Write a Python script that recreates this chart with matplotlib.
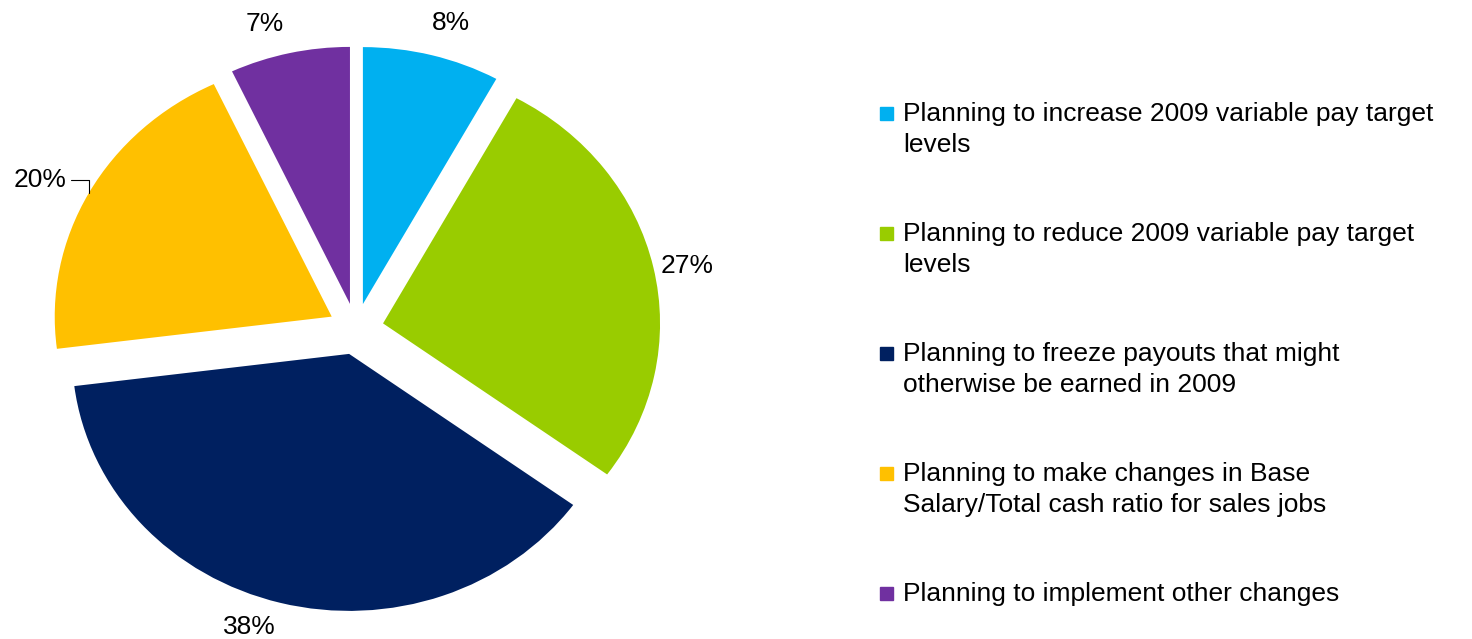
import numpy as np
import matplotlib
matplotlib.use("Agg")
import matplotlib.pyplot as plt
from matplotlib.patches import Rectangle

plt.rcParams['font.family'] = ['Liberation Sans', 'DejaVu Sans']

# data
shares = [8, 27, 38, 20, 7]
pct_labels = ["8%", "27%", "38%", "20%", "7%"]
legend_labels = [
    "Planning to increase 2009 variable pay target\nlevels",
    "Planning to reduce 2009 variable pay target\nlevels",
    "Planning to freeze payouts that might\notherwise be earned in 2009",
    "Planning to make changes in Base\nSalary/Total cash ratio for sales jobs",
    "Planning to implement other changes",
]
colors = ["#00B0F0", "#99CC00", "#002060", "#FFC000", "#7030A0"]

# small angular nudges for the % labels (degrees), like Excel's best fit
label_shift = [-1.6, -1.1, -4.0, 1.8, 2.9]
label_dist = [1.24, 1.22, 1.22, 1.28, 1.23]

W, H = 1472, 639
FS = 19
fig = plt.figure(figsize=(W / 100, H / 100), dpi=100)

# pie axes: centre ~ (356, 329) px, radii 277 x 257 px (slightly squashed)
cx, cy, rx, ry = 356, 329, 277, 257
lim = 1.25
ax = fig.add_axes([(cx - lim * rx) / W, (H - cy - lim * ry) / H,
                   2 * lim * rx / W, 2 * lim * ry / H])

wedges, texts = ax.pie(shares, colors=colors, startangle=90, counterclock=False,
                       explode=[0.1] * len(shares), labels=pct_labels,
                       textprops=dict(fontsize=FS, color="black"))
ax.set_aspect('auto')
ax.set_xlim(-lim, lim)
ax.set_ylim(-lim, lim)
ax.axis('off')

for t, w, sh, d in zip(texts, wedges, label_shift, label_dist):
    a = np.deg2rad((w.theta1 + w.theta2) / 2 + sh)
    t.set_position((d * np.cos(a), d * np.sin(a)))
    t.set_ha('center')
    t.set_va('center')

# leader line for the 20% label
w = wedges[3]
ang = np.deg2rad((w.theta1 + w.theta2) / 2)
tx, ty = texts[3].get_position()
texts[3].set_visible(False)
ax.annotate(pct_labels[3], xy=(1.1 * np.cos(ang), 1.1 * np.sin(ang)),
            xytext=(tx, ty), fontsize=FS, ha='center', va='center',
            arrowprops=dict(arrowstyle='-', color='black', lw=0.8,
                            connectionstyle='angle,angleA=0,angleB=90,rad=0',
                            shrinkA=1, shrinkB=0))

# legend drawn by hand so the square sits on the first line
top = 113
step = 120
for i, (lab, col) in enumerate(zip(legend_labels, colors)):
    y = top + step * i
    fig.patches.append(Rectangle((880 / W, 1 - (y + 7) / H), 13 / W, 13 / H,
                                 transform=fig.transFigure, color=col))
    fig.text(903 / W, 1 - (y - 11) / H, lab, fontsize=FS, va='top', ha='left',
             linespacing=1.38)

fig.savefig("out.png", dpi=100)
